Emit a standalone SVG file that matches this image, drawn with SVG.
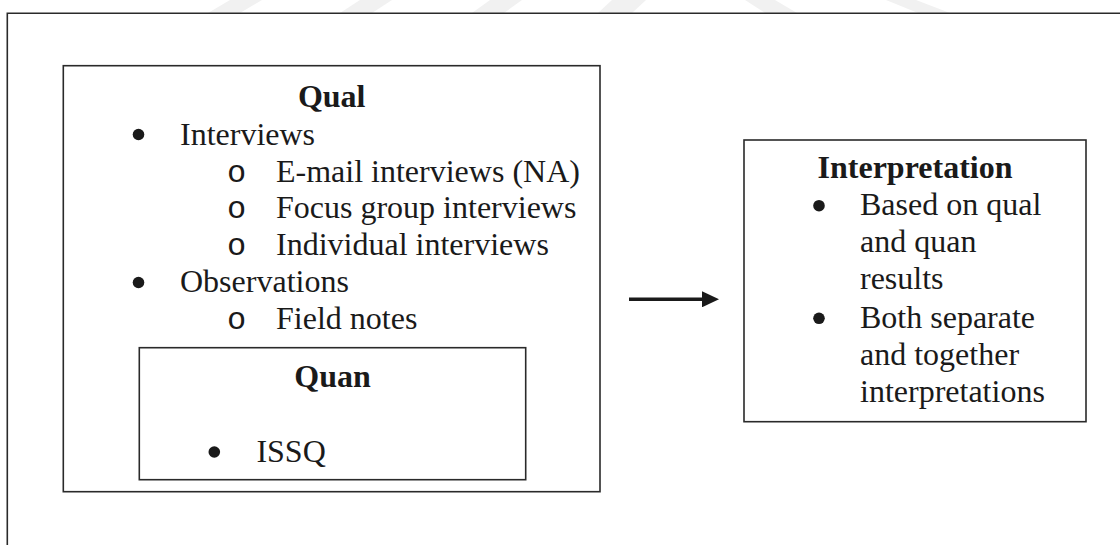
<svg xmlns="http://www.w3.org/2000/svg" width="1120" height="545" viewBox="0 0 1120 545">
  <style>
    .box { fill: #ffffff; stroke: #2a2a2a; stroke-width: 1.6; }
    .frame { fill: none; stroke: #2a2a2a; stroke-width: 1.6; }
    .t { font-family: "Liberation Serif", "Times New Roman", serif; font-size: 32px; fill: #1a1a1a; }
    .h { font-family: "Liberation Serif", "Times New Roman", serif; font-size: 32px; font-weight: bold; fill: #1a1a1a; text-anchor: middle; }
    .o { font-family: "Liberation Mono", "Courier New", monospace; font-size: 32px; fill: #1a1a1a; text-anchor: middle; }
    .dot { fill: #1a1a1a; }
    .wm { fill: #f1f1f1; }
    .conn { stroke: #1a1a1a; stroke-width: 3.4; fill: none; }
  </style>
  <defs>
    <marker id="arrowhead" markerWidth="17" markerHeight="16" refX="1" refY="8" orient="auto" markerUnits="userSpaceOnUse">
      <polygon points="0,0 17,8 0,16" fill="#1a1a1a"/>
    </marker>
  </defs>
  <rect x="0" y="0" width="1120" height="545" fill="#ffffff"/>
  <g id="watermark">
    <polygon class="wm" points="208,13 230,0 262,0 240,13"/>
    <polygon class="wm" points="340,13 360,0 392,0 372,13"/>
    <polygon class="wm" points="472,13 490,0 522,0 504,13"/>
    <polygon class="wm" points="598,13 612,0 646,0 632,13"/>
    <polygon class="wm" points="745,0 775,0 797,13 765,13"/>
    <polygon class="wm" points="886,0 916,0 950,13 918,13"/>
  </g>
  <g id="frame">
    <polyline class="frame" points="7.3,545 7.3,13.3 1120,13.3"/>
  </g>
  <g id="qual">
    <rect class="box" x="63.3" y="65.7" width="536.7" height="426"/>
    <text class="h" x="331.7" y="107">Qual</text>
    <circle class="dot" cx="138.5" cy="134.5" r="5.8"/>
    <text class="t" x="180" y="144.5">Interviews</text>
    <text class="o" x="236.7" y="181.5">o</text>
    <text class="t" x="276" y="181.5">E-mail interviews (NA)</text>
    <text class="o" x="236.7" y="218.3">o</text>
    <text class="t" x="276" y="218.3">Focus group interviews</text>
    <text class="o" x="236.7" y="255">o</text>
    <text class="t" x="276" y="255">Individual interviews</text>
    <circle class="dot" cx="138.5" cy="282.5" r="5.8"/>
    <text class="t" x="180" y="292.3">Observations</text>
    <text class="o" x="236.7" y="329">o</text>
    <text class="t" x="276" y="329">Field notes</text>
  </g>
  <g id="quan">
    <rect class="box" x="139.3" y="347.7" width="386.4" height="132"/>
    <text class="h" x="332.5" y="387">Quan</text>
    <circle class="dot" cx="214.3" cy="452" r="5.8"/>
    <text class="t" x="256.4" y="461.7">ISSQ</text>
  </g>
  <g id="interpretation">
    <rect class="box" x="744" y="140" width="342" height="281.7"/>
    <text class="h" x="915" y="178">Interpretation</text>
    <circle class="dot" cx="819" cy="205.7" r="5.8"/>
    <text class="t" x="860" y="215">Based on qual</text>
    <text class="t" x="860" y="252">and quan</text>
    <text class="t" x="860" y="288.5">results</text>
    <circle class="dot" cx="819" cy="318.3" r="5.8"/>
    <text class="t" x="860" y="327.5">Both separate</text>
    <text class="t" x="860" y="364.5">and together</text>
    <text class="t" x="860" y="401.5">interpretations</text>
  </g>
  <g id="connectors">
    <line class="conn" x1="629" y1="299.3" x2="703" y2="299.3" marker-end="url(#arrowhead)"/>
  </g>
</svg>
